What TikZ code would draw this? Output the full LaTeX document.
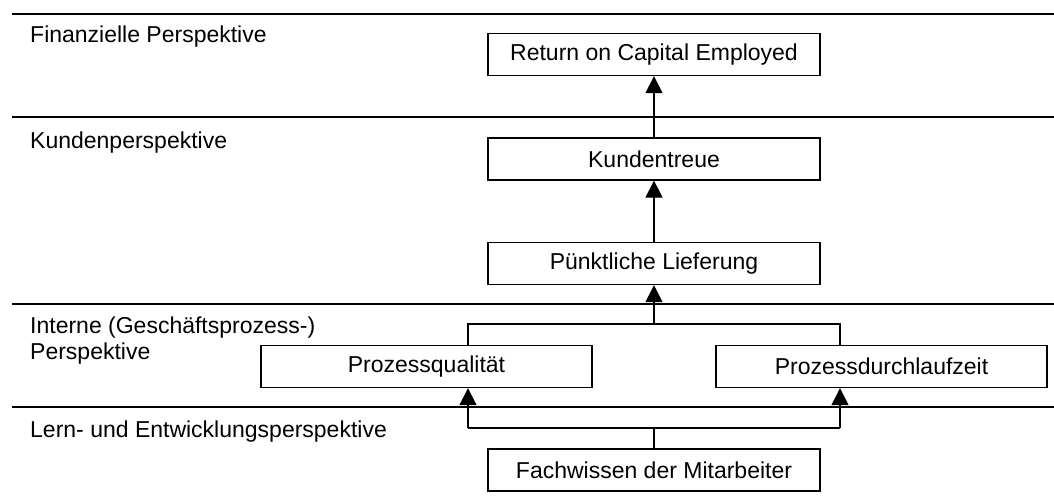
\documentclass[tikz,border=0pt]{standalone}
\usepackage{fontspec}
\setmainfont{Liberation Sans}
\usetikzlibrary{arrows.meta}
\begin{document}
\begin{tikzpicture}[x=1pt,y=-1pt,
  box/.style={draw, line width=1.3pt, minimum width=332pt, minimum height=42pt, inner sep=0pt, font=\fontsize{23}{27}\selectfont},
  sepline/.style={line width=1.3pt},
  lbl/.style={anchor=base west, inner sep=0pt, font=\fontsize{23}{27}\selectfont},
  conn/.style={line width=1.3pt},
  arr/.style={conn, -{Triangle[length=17pt,width=17pt]}}]
\useasboundingbox (0,0) rectangle (1054,503);
% separator lines
\draw[sepline] (12,14) -- (1054,14);
\draw[sepline] (12,117) -- (1054,117);
\draw[sepline] (12,304) -- (1054,304);
\draw[sepline] (12,407) -- (1054,407);
% labels
\node[lbl] (l1) at (30,43) {Finanzielle Perspektive};
\node[lbl] (l2) at (30,148) {Kundenperspektive};
\node[lbl] (l3a) at (30,333) {Interne (Geschäftsprozess-)};
\node[lbl] (l3b) at (30,359) {Perspektive};
\node[lbl] (l4) at (30,437) {Lern- und Entwicklungsperspektive};
% boxes
\node[box] (roce) at (654,54.5) {Return on Capital Employed};
\node[box] (kt) at (654,159) {Kundentreue};
\node[box] (pl) at (654,263.5) {Pünktliche Lieferung};
\node[box, minimum width=331pt] (pq) at (426.5,366.5) {Prozessqualität};
\node[box, minimum width=331pt] (pd) at (881.5,366.5) {Prozessdurchlaufzeit};
\node[box] (fw) at (654,470) {Fachwissen der Mitarbeiter};
% connectors
\draw[arr] (kt.north) -- (roce.south);
\draw[arr] (pl.north) -- (kt.south);
\coordinate (jl) at (468,324);
\coordinate (jr) at (840,324);
\coordinate (jm) at (654,324);
\draw[conn] (pq.north -| jl) -- (jl) -- (jr) -- (pd.north -| jr);
\draw[arr] (jm) -- (pl.south);
\coordinate (bl) at (468,428);
\coordinate (br) at (840,428);
\draw[conn] (fw.north) -- (fw.north |- bl);
\draw[conn] (bl) -- (br);
\draw[arr] (bl) -- (pq.south -| bl);
\draw[arr] (br) -- (pd.south -| br);
\end{tikzpicture}
\end{document}
